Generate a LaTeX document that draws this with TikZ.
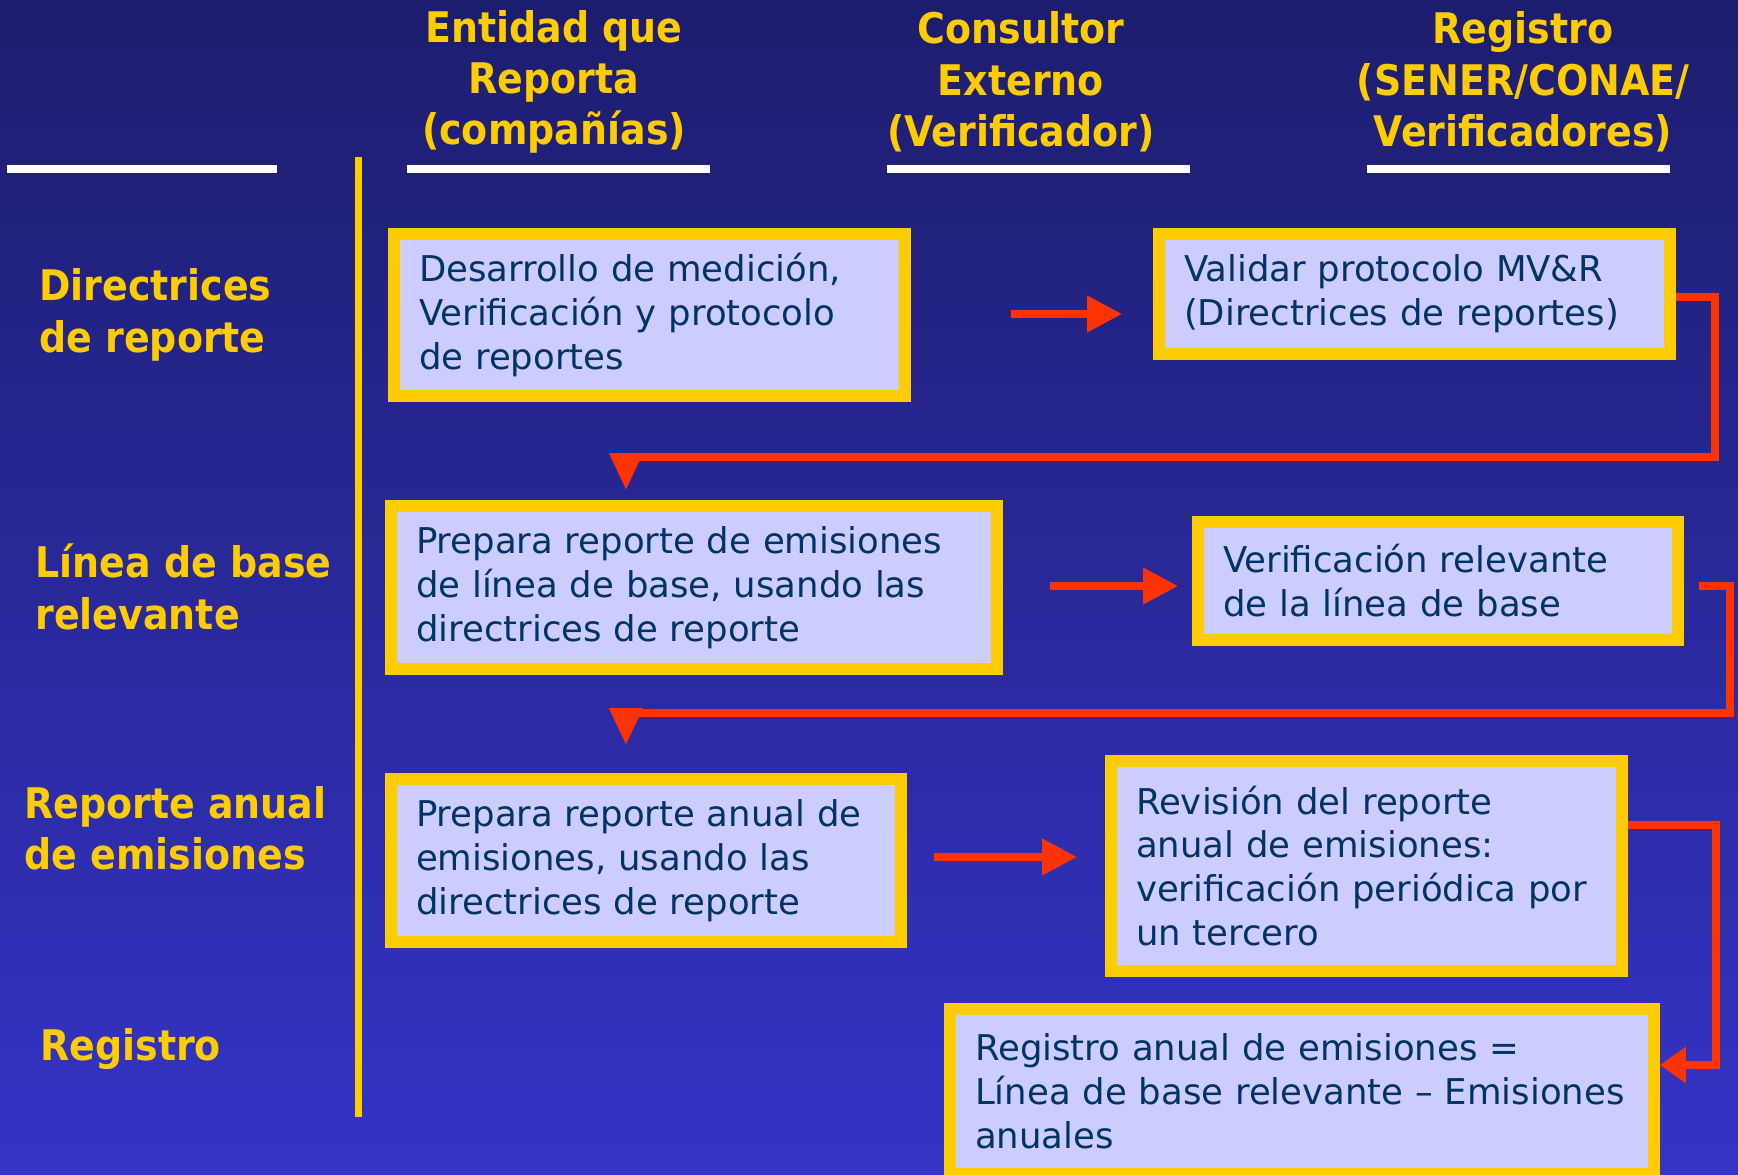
\documentclass[tikz,border=0pt]{standalone}
\usepackage{fontspec}
\setmainfont{DejaVu Sans}
\newfontfamily\headfont{DejaVu Sans Bold}[FakeStretch=0.9]
\usetikzlibrary{calc,arrows.meta}

\definecolor{bgtop}{HTML}{1D1D6E}
\definecolor{bgbot}{HTML}{3434C6}
\definecolor{gold}{HTML}{FFCC00}
\definecolor{lila}{HTML}{CCCCFF}
\definecolor{ink}{HTML}{003366}
\definecolor{redarrow}{HTML}{FF3300}

\begin{document}
\begin{tikzpicture}[
                x=0.02cm, y=-0.02cm, % pixel units, y downwards
                box/.style={draw=gold,line width=0.24cm,fill=lila,text=ink,align=left,
                            inner xsep=0.5cm,font=\fontsize{20.2}{25}\selectfont},
                head/.style={text=gold,inner sep=0pt,font=\headfont\fontsize{24}{29.2}\selectfont},
                rule/.style={draw=white,line width=0.16cm},
                flow/.style={draw=redarrow,line width=0.15cm,-{Triangle[length=0.7cm,width=0.7cm]}},
                backflow/.style={draw=redarrow,line width=0.15cm,-{Triangle[length=0.74cm,width=0.64cm]}},
                sideflow/.style={draw=redarrow,line width=0.15cm,-{Triangle[length=0.52cm,width=0.7cm]}}]

% background
\shade[top color=bgtop,bottom color=bgbot] (0,0) rectangle (1738,1175);
\useasboundingbox (0,0) rectangle (1738,1175);

% column heads
                    \node[head,align=center] (HeadA) at (554,82)  {Entidad que\\Reporta\\(compañías)}; % 1
                    \node[head,align=center] (HeadB) at (1021,82) {Consultor\\Externo\\(Verificador)}; % 2
                    \node[head,align=center] (HeadC) at (1523,82) {Registro\\(SENER/CONAE/\\Verificadores)}; % 3

                    \foreach \a/\b in {7/277,407/710,887/1190,1367/1670}
                      \draw[rule] (\a,169) -- (\b,169);

                    \draw[draw=gold,line width=0.14cm] (358,157) -- (358,1117);

% row heads
                    \node[head,align=left,anchor=west] (RowA) at (39,315) {Directrices\\de reporte};
                    \node[head,align=left,anchor=west] (RowB) at (35,587) {Línea de base\\relevante};
                    \node[head,align=left,anchor=west] (RowC) at (24,828) {Reporte anual\\de emisiones};
                    \node[head,anchor=base west] (RowD) at (40,1060) {Registro};

% 1
                    \node[box,minimum width=10.22cm,minimum height=3.24cm,text width=9.22cm] (BoxA1) at (649.5,315)
                      {Desarrollo de medición,\\Verificación y protocolo\\de reportes};
                    \node[box,minimum width=10.22cm,minimum height=2.4cm,text width=9.22cm] (BoxC1) at (1414.5,294)
                      {Validar protocolo MV\&R\\(Directrices de reportes)};

                    \draw[flow] ($(BoxA1.east)+(100,-1)$) -- ($(BoxC1.west |- BoxA1.east)+(-31,-1)$);

% 2
                    \node[box,minimum width=12.12cm,minimum height=3.26cm,text width=11.12cm] (BoxA2) at (694,587.5)
                      {Prepara reporte de emisiones\\de línea de base, usando las\\directrices de reporte};
                    \node[box,minimum width=9.6cm,minimum height=2.36cm,text width=8.6cm] (BoxB2) at (1438,581)
                      {Verificación relevante\\de la línea de base};

                    \draw[flow] ($(BoxA2.east)+(47,-1.5)$) -- ($(BoxB2.west |- BoxA2.east)+(-14,-1.5)$);

% 3
                    \node[box,minimum width=10.2cm,minimum height=3.26cm,text width=9.2cm] (BoxA3) at (646,860.5)
                      {Prepara reporte anual de\\emisiones, usando las\\directrices de reporte};
                    \node[box,minimum width=10.22cm,minimum height=4.2cm,text width=9.22cm] (BoxB3) at (1366.5,866)
                      {Revisión del reporte\\anual de emisiones:\\verificación periódica por\\un tercero};

                    \draw[flow] ($(BoxA3.east)+(27,-3.5)$) -- ($(BoxB3.west |- BoxA3.east)+(-28,-3.5)$);

% registro
                    \node[box,minimum width=14.08cm,minimum height=3.3cm,text width=13.08cm] (BoxR) at (1302,1091.5)
                      {Registro anual de emisiones =\\Línea de base relevante – Emisiones\\anuales};

% back to the next row
                    \coordinate (InA2) at (626,490);
                    \coordinate (InA3) at (626,745);

                    \draw[backflow] ($(BoxC1.east)+(0,3)$) -- ++(39,0) |- ($(InA2)+(0,-33)$) -- (InA2);
                    \draw[backflow] ($(BoxB2.east)+(15,5)$) -- ++(31,0) |- ($(InA3)+(0,-32)$) -- (InA3);
                    \draw[sideflow] ($(BoxB3.east)+(0,-41)$) -- ++(88,0) |- ($(BoxR.east)+(0,-26.5)$);

\end{tikzpicture}
\end{document}
